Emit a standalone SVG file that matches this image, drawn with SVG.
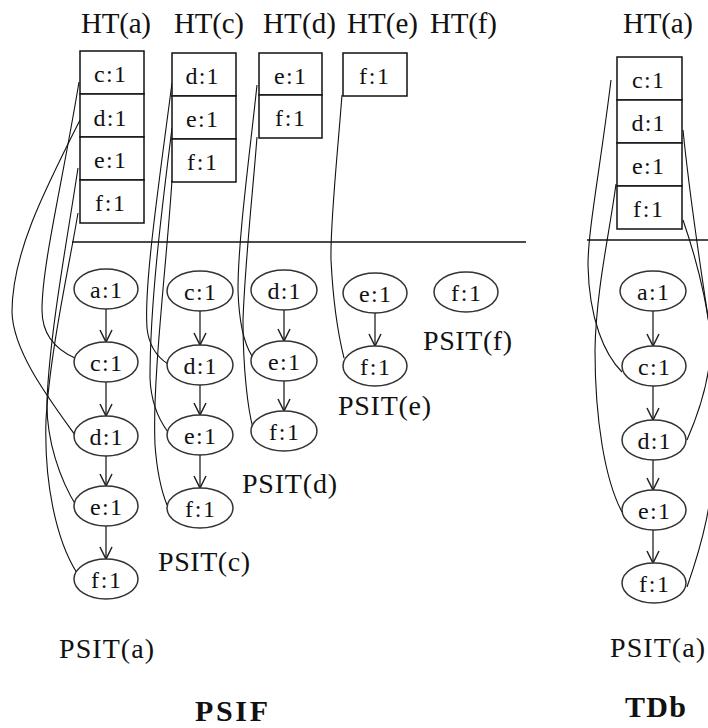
<svg xmlns="http://www.w3.org/2000/svg" width="708" height="728" viewBox="0 0 708 728" font-family="'Liberation Serif', Tinos, 'DejaVu Serif', 'Times New Roman', serif">
<defs>
<marker id="arr" viewBox="0 0 12 12" refX="12" refY="6" markerWidth="12" markerHeight="12" markerUnits="userSpaceOnUse" orient="auto" overflow="visible"><path d="M0,0 L12,6 L0,12" fill="none" stroke="#222" stroke-width="1.5"/></marker>
</defs>
<style>
text{font-family:'Liberation Serif', Tinos, 'DejaVu Serif', 'Times New Roman', serif;fill:#111}
.h{font-size:29px}
.c{font-size:24px;text-anchor:middle}
.p{font-size:28px}
.t{font-size:30px;font-weight:bold}
.box{fill:#fff;stroke:#111;stroke-width:1.5}
.ell{fill:#fff;stroke:#333;stroke-width:1.5}
.arrow{stroke:#222;stroke-width:1.3;marker-end:url(#arr)}
.link{fill:none;stroke:#111;stroke-width:1.1}
.sep{stroke:#111;stroke-width:1.3}
</style>
<rect width="708" height="728" fill="#fff"/>

<g id="labels">
<text class="h" x="81" y="33" textLength="70" lengthAdjust="spacing">HT(a)</text>
<text class="h" x="174" y="33" textLength="70" lengthAdjust="spacing">HT(c)</text>
<text class="h" x="263" y="33" textLength="73" lengthAdjust="spacing">HT(d)</text>
<text class="h" x="347" y="33" textLength="71" lengthAdjust="spacing">HT(e)</text>
<text class="h" x="430" y="33" textLength="67" lengthAdjust="spacing">HT(f)</text>
<text class="h" x="623" y="33" textLength="70" lengthAdjust="spacing">HT(a)</text>
<text class="p" x="59" y="658" textLength="95" lengthAdjust="spacing">PSIT(a)</text>
<text class="p" x="158" y="571" textLength="92" lengthAdjust="spacing">PSIT(c)</text>
<text class="p" x="242" y="493" textLength="95" lengthAdjust="spacing">PSIT(d)</text>
<text class="p" x="338" y="415" textLength="93" lengthAdjust="spacing">PSIT(e)</text>
<text class="p" x="423" y="350" textLength="89" lengthAdjust="spacing">PSIT(f)</text>
<text class="p" x="610" y="657" textLength="95" lengthAdjust="spacing">PSIT(a)</text>
<text class="t" x="195" y="721" textLength="73" lengthAdjust="spacing">PSIF</text>
<text class="t" x="625" y="717" textLength="61" lengthAdjust="spacing">TDb</text>
</g>

<g id="separators">
<line class="sep" x1="72" y1="242" x2="526" y2="242"/>
<line class="sep" x1="587" y1="240" x2="708" y2="240"/>
</g>

<g id="connectors">
<path class="link" d="M79,82 C62,185 42,265 42,310 C42,335 57,350 75,358"/>
<path class="link" d="M80,120 C42,195 12,255 12,312 C13,352 50,400 75,435"/>
<path class="link" d="M78,168 C68,235 50,330 47,400 C46,440 60,480 77,507"/>
<path class="link" d="M78,213 C70,262 50,350 46,420 C44,482 56,540 77,573"/>
<path class="link" d="M172,83 C158,190 144,285 147,328 C149,347 157,357 168,364"/>
<path class="link" d="M172,128 C163,200 150,300 150,378 C151,403 159,420 168,432"/>
<path class="link" d="M172,180 C167,260 152,380 155,445 C157,472 161,490 167,505"/>
<path class="link" d="M257,85 C249,160 238,240 238,290 C239,324 245,345 252,356"/>
<path class="link" d="M257,137 C253,190 245,262 243,320 C243,370 248,410 253,428"/>
<path class="link" d="M342,95 C337,160 330,225 331,260 C333,300 337,330 344,358"/>
<path class="link" d="M611,80 C600,170 588,230 588,265 C589,320 605,355 622,372"/>
<path class="link" d="M616,184 C610,230 596,290 595,350 C595,420 605,480 622,512"/>
<path class="link" d="M683,130 C690,200 700,265 710,330 C714,370 700,410 687,440"/>
<path class="link" d="M683,220 C695,255 716,320 716,420 C716,500 700,550 687,587"/>
<line class="arrow" x1="106" y1="309" x2="106" y2="342"/>
<line class="arrow" x1="106" y1="382" x2="106" y2="416"/>
<line class="arrow" x1="106" y1="456" x2="106" y2="486"/>
<line class="arrow" x1="106" y1="526" x2="106" y2="559"/>
<line class="arrow" x1="200" y1="311" x2="200" y2="345"/>
<line class="arrow" x1="200" y1="385" x2="200" y2="415"/>
<line class="arrow" x1="200" y1="455" x2="200" y2="488"/>
<line class="arrow" x1="284" y1="310" x2="284" y2="341"/>
<line class="arrow" x1="284" y1="381" x2="284" y2="411"/>
<line class="arrow" x1="375" y1="313" x2="375" y2="346"/>
<line class="arrow" x1="653" y1="311" x2="653" y2="346"/>
<line class="arrow" x1="653" y1="386" x2="653" y2="420"/>
<line class="arrow" x1="653" y1="460" x2="653" y2="490"/>
<line class="arrow" x1="653" y1="530" x2="653" y2="563"/>
</g>

<g id="hta-c"><rect class="box" x="80" y="51" width="64" height="43"/><text class="c" x="110" y="82" textLength="32" lengthAdjust="spacing">c:1</text></g>
<g id="hta-d"><rect class="box" x="80" y="94" width="64" height="43"/><text class="c" x="110" y="126" textLength="33" lengthAdjust="spacing">d:1</text></g>
<g id="hta-e"><rect class="box" x="80" y="137" width="64" height="43"/><text class="c" x="110" y="168" textLength="32" lengthAdjust="spacing">e:1</text></g>
<g id="hta-f"><rect class="box" x="80" y="180" width="64" height="43"/><text class="c" x="110" y="211" textLength="30" lengthAdjust="spacing">f:1</text></g>
<g id="htc-d"><rect class="box" x="172" y="53" width="64" height="43"/><text class="c" x="202" y="84" textLength="33" lengthAdjust="spacing">d:1</text></g>
<g id="htc-e"><rect class="box" x="172" y="96" width="64" height="43"/><text class="c" x="202" y="127" textLength="32" lengthAdjust="spacing">e:1</text></g>
<g id="htc-f"><rect class="box" x="172" y="139" width="64" height="43"/><text class="c" x="202" y="170" textLength="30" lengthAdjust="spacing">f:1</text></g>
<g id="htd-e"><rect class="box" x="259" y="53" width="63" height="42"/><text class="c" x="290" y="84" textLength="32" lengthAdjust="spacing">e:1</text></g>
<g id="htd-f"><rect class="box" x="259" y="95" width="63" height="43"/><text class="c" x="290" y="126" textLength="30" lengthAdjust="spacing">f:1</text></g>
<g id="hte-f"><rect class="box" x="343" y="53" width="64" height="43"/><text class="c" x="374" y="84" textLength="30" lengthAdjust="spacing">f:1</text></g>
<g id="tdb-hta-c"><rect class="box" x="617" y="57" width="65" height="43"/><text class="c" x="648" y="88" textLength="32" lengthAdjust="spacing">c:1</text></g>
<g id="tdb-hta-d"><rect class="box" x="617" y="100" width="65" height="43"/><text class="c" x="648" y="131" textLength="33" lengthAdjust="spacing">d:1</text></g>
<g id="tdb-hta-e"><rect class="box" x="617" y="143" width="65" height="43"/><text class="c" x="648" y="174" textLength="32" lengthAdjust="spacing">e:1</text></g>
<g id="tdb-hta-f"><rect class="box" x="617" y="186" width="65" height="43"/><text class="c" x="648" y="217" textLength="30" lengthAdjust="spacing">f:1</text></g>

<g id="psa-a"><ellipse class="ell" cx="106" cy="289" rx="32" ry="20"/><text class="c" x="106" y="298" textLength="32" lengthAdjust="spacing">a:1</text></g>
<g id="psa-c"><ellipse class="ell" cx="106" cy="362" rx="32" ry="20"/><text class="c" x="106" y="371" textLength="32" lengthAdjust="spacing">c:1</text></g>
<g id="psa-d"><ellipse class="ell" cx="106" cy="436" rx="32" ry="20"/><text class="c" x="106" y="445" textLength="33" lengthAdjust="spacing">d:1</text></g>
<g id="psa-e"><ellipse class="ell" cx="106" cy="506" rx="32" ry="20"/><text class="c" x="106" y="515" textLength="32" lengthAdjust="spacing">e:1</text></g>
<g id="psa-f"><ellipse class="ell" cx="106" cy="579" rx="32" ry="20"/><text class="c" x="106" y="588" textLength="30" lengthAdjust="spacing">f:1</text></g>
<g id="psc-c"><ellipse class="ell" cx="200" cy="291" rx="33" ry="20"/><text class="c" x="200" y="300" textLength="32" lengthAdjust="spacing">c:1</text></g>
<g id="psc-d"><ellipse class="ell" cx="200" cy="365" rx="33" ry="20"/><text class="c" x="200" y="374" textLength="33" lengthAdjust="spacing">d:1</text></g>
<g id="psc-e"><ellipse class="ell" cx="200" cy="435" rx="33" ry="20"/><text class="c" x="200" y="444" textLength="32" lengthAdjust="spacing">e:1</text></g>
<g id="psc-f"><ellipse class="ell" cx="200" cy="508" rx="33" ry="20"/><text class="c" x="200" y="517" textLength="30" lengthAdjust="spacing">f:1</text></g>
<g id="psd-d"><ellipse class="ell" cx="284" cy="290" rx="33" ry="20"/><text class="c" x="284" y="299" textLength="33" lengthAdjust="spacing">d:1</text></g>
<g id="psd-e"><ellipse class="ell" cx="284" cy="361" rx="33" ry="20"/><text class="c" x="284" y="370" textLength="32" lengthAdjust="spacing">e:1</text></g>
<g id="psd-f"><ellipse class="ell" cx="284" cy="431" rx="33" ry="20"/><text class="c" x="284" y="440" textLength="30" lengthAdjust="spacing">f:1</text></g>
<g id="pse-e"><ellipse class="ell" cx="375" cy="293" rx="32" ry="20"/><text class="c" x="375" y="302" textLength="32" lengthAdjust="spacing">e:1</text></g>
<g id="pse-f"><ellipse class="ell" cx="375" cy="366" rx="32" ry="20"/><text class="c" x="375" y="375" textLength="30" lengthAdjust="spacing">f:1</text></g>
<g id="psf-f"><ellipse class="ell" cx="466" cy="292" rx="32" ry="20"/><text class="c" x="466" y="301" textLength="30" lengthAdjust="spacing">f:1</text></g>
<g id="tdb-a"><ellipse class="ell" cx="653" cy="291" rx="33" ry="20"/><text class="c" x="653" y="300" textLength="32" lengthAdjust="spacing">a:1</text></g>
<g id="tdb-c"><ellipse class="ell" cx="654" cy="366" rx="32" ry="20"/><text class="c" x="654" y="375" textLength="32" lengthAdjust="spacing">c:1</text></g>
<g id="tdb-d"><ellipse class="ell" cx="654" cy="440" rx="32" ry="20"/><text class="c" x="654" y="449" textLength="33" lengthAdjust="spacing">d:1</text></g>
<g id="tdb-e"><ellipse class="ell" cx="654" cy="510" rx="32" ry="20"/><text class="c" x="654" y="519" textLength="32" lengthAdjust="spacing">e:1</text></g>
<g id="tdb-f"><ellipse class="ell" cx="654" cy="583" rx="32" ry="20"/><text class="c" x="654" y="592" textLength="30" lengthAdjust="spacing">f:1</text></g>
</svg>
